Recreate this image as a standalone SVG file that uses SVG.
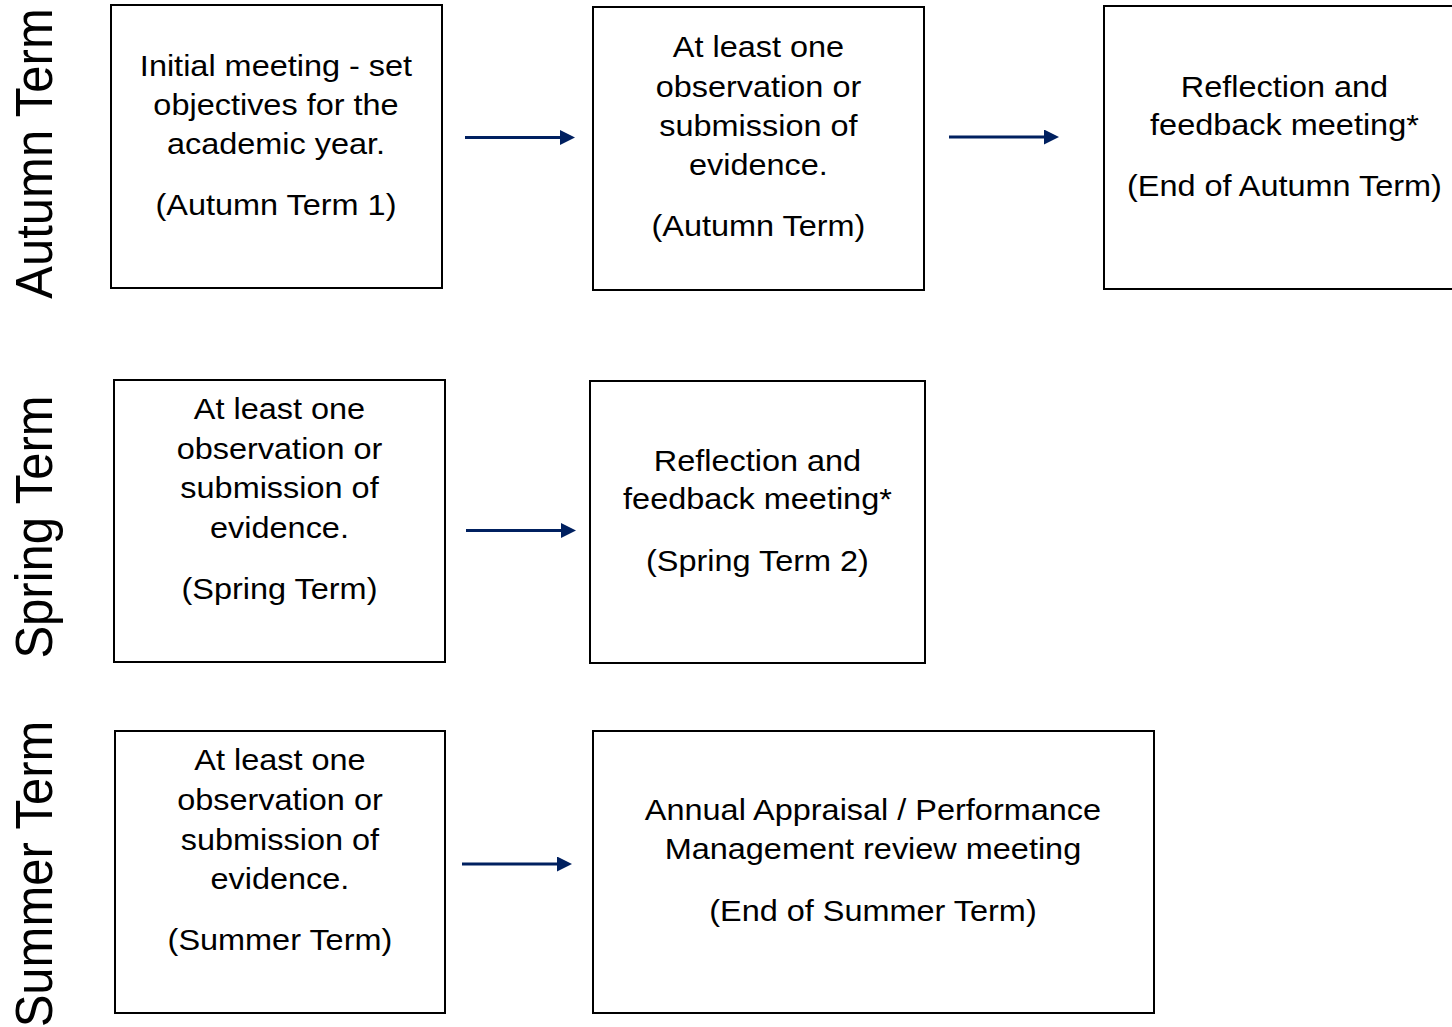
<svg xmlns="http://www.w3.org/2000/svg" width="1452" height="1027" viewBox="0 0 1452 1027">
<style>
.box{fill:#fff;stroke:#000;stroke-width:2}
.t{font-family:"Liberation Sans",Arial,sans-serif;font-size:29.5px;fill:#000;text-anchor:middle}
.side{font-family:"Liberation Sans",Arial,sans-serif;font-size:49px;fill:#000;text-anchor:middle}
.arr{stroke:#002060;stroke-width:3;fill:none;marker-end:url(#ah)}
</style>
<defs>
<marker id="ah" markerUnits="userSpaceOnUse" markerWidth="16" markerHeight="16" refX="0" refY="7.5" orient="auto">
<path d="M0,0 L15,7.5 L0,15 z" fill="#002060"/>
</marker>
</defs>
<rect width="1452" height="1027" fill="#fff"/>
<g id="labels">
<text class="side" transform="translate(52,153.5) scale(1.07,1) rotate(-90)">Autumn Term</text>
<text class="side" transform="translate(52,527) scale(1.07,1) rotate(-90)">Spring Term</text>
<text class="side" transform="translate(52,874) scale(1.07,1) rotate(-90)">Summer Term</text>
</g>
<g id="node-a1">
<rect class="box" x="111" y="5" width="331" height="283"/>
<g transform="scale(1.1,1)"><text class="t"><tspan x="250.9" y="76">Initial meeting - set</tspan><tspan x="250.9" y="115">objectives for the</tspan><tspan x="250.9" y="154">academic year.</tspan><tspan x="250.9" y="215">(Autumn Term 1)</tspan></text></g>
</g>
<g id="node-a2">
<rect class="box" x="593" y="7" width="331" height="283"/>
<g transform="scale(1.1,1)"><text class="t"><tspan x="689.5" y="57">At least one</tspan><tspan x="689.5" y="97">observation or</tspan><tspan x="689.5" y="136">submission of</tspan><tspan x="689.5" y="175">evidence.</tspan><tspan x="689.5" y="236">(Autumn Term)</tspan></text></g>
</g>
<g id="node-a3">
<rect class="box" x="1104" y="6" width="370" height="283"/>
<g transform="scale(1.1,1)"><text class="t"><tspan x="1167.7" y="97">Reflection and</tspan><tspan x="1167.7" y="135">feedback meeting*</tspan><tspan x="1167.7" y="196">(End of Autumn Term)</tspan></text></g>
</g>
<g id="node-s1">
<rect class="box" x="114" y="380" width="331" height="282"/>
<g transform="scale(1.1,1)"><text class="t"><tspan x="254.1" y="419">At least one</tspan><tspan x="254.1" y="459">observation or</tspan><tspan x="254.1" y="498">submission of</tspan><tspan x="254.1" y="538">evidence.</tspan><tspan x="254.1" y="599">(Spring Term)</tspan></text></g>
</g>
<g id="node-s2">
<rect class="box" x="590" y="381" width="335" height="282"/>
<g transform="scale(1.1,1)"><text class="t"><tspan x="688.6" y="471">Reflection and</tspan><tspan x="688.6" y="509">feedback meeting*</tspan><tspan x="688.6" y="571">(Spring Term 2)</tspan></text></g>
</g>
<g id="node-u1">
<rect class="box" x="115" y="731" width="330" height="282"/>
<g transform="scale(1.1,1)"><text class="t"><tspan x="254.5" y="770">At least one</tspan><tspan x="254.5" y="810">observation or</tspan><tspan x="254.5" y="850">submission of</tspan><tspan x="254.5" y="889">evidence.</tspan><tspan x="254.5" y="950">(Summer Term)</tspan></text></g>
</g>
<g id="node-u2">
<rect class="box" x="593" y="731" width="561" height="282"/>
<g transform="scale(1.1,1)"><text class="t"><tspan x="793.6" y="820">Annual Appraisal / Performance</tspan><tspan x="793.6" y="859">Management review meeting</tspan><tspan x="793.6" y="921">(End of Summer Term)</tspan></text></g>
</g>
<g id="connectors">
<line class="arr" x1="465" y1="137.5" x2="560" y2="137.5"/>
<line class="arr" x1="949" y1="137" x2="1044" y2="137"/>
<line class="arr" x1="466" y1="530.5" x2="561" y2="530.5"/>
<line class="arr" x1="462" y1="864" x2="557" y2="864"/>
</g>
</svg>
